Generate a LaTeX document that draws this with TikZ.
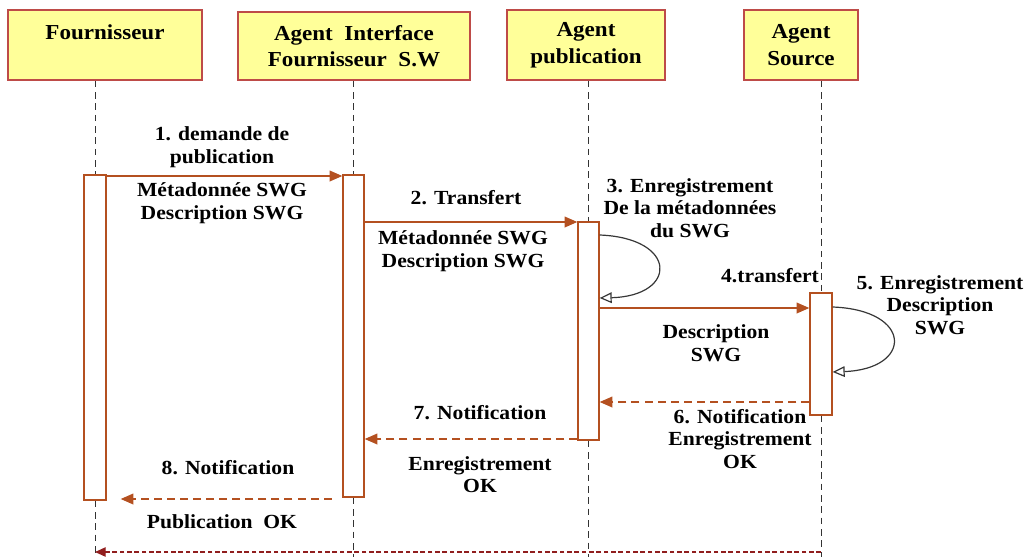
\documentclass[tikz,border=0pt]{standalone}
\usepackage{fontspec}
\setmainfont{Liberation Serif}[FakeStretch=1.08]
\usetikzlibrary{arrows.meta,positioning,fit}
\definecolor{headfill}{RGB}{255,255,153}
\definecolor{headborder}{RGB}{190,75,72}
\definecolor{msgbrown}{RGB}{180,80,32}
\definecolor{loopgray}{RGB}{55,55,55}
\definecolor{returnred}{RGB}{145,30,30}

\begin{document}
\begin{tikzpicture}[x=0.75pt, y=-0.75pt,
    every node/.style={font=\fontsize{15}{17}\selectfont\bfseries, align=center},
    head/.style={draw=headborder, fill=headfill, line width=1.2pt, inner sep=0pt, minimum height=52.5pt, font=\fontsize{16}{20}\selectfont\bfseries},
    actbar/.style={draw=msgbrown, fill=white, line width=1pt, inner sep=0pt},
    lifeline/.style={draw=black!80, line width=0.75pt, dash pattern=on 5pt off 3.5pt},
    msg/.style={draw=msgbrown, line width=1.1pt, -{Triangle[length=9.5pt, width=8pt]}},
    reply/.style={msg, dash pattern=on 6pt off 3.8pt},
    selfloop/.style={draw=loopgray, line width=0.9pt, -{Triangle[open, length=9pt, width=8pt, fill=white]}},
    back/.style={draw=returnred, line width=1pt, dash pattern=on 3.5pt off 2pt, -{Triangle[length=8pt, width=7pt]}}]
    \useasboundingbox (0,0) rectangle (1027,557);

    % Headers
    \node[head, minimum width=145.5pt] (hF) at (105,45) {Fournisseur\\\mbox{}};
    \node[head, minimum width=174pt, minimum height=51pt] (hI) at (354,46) {Agent\ \ Interface\\Fournisseur\ \ S.W};
    \node[head, minimum width=118.5pt] (hP) at (586,45) {Agent\\publication};
    \node[head, minimum width=85.5pt] (hS) at (801,45) {Agent\\Source};

    % Activation bars
    \node[actbar, fit={(84,175) (106,500)}] (actF) {};
    \node[actbar, fit={(343,175) (364,497)}] (actI) {};
    \node[actbar, fit={(578,222) (599,440)}] (actP) {};
    \node[actbar, fit={(810,293) (832,415)}] (actS) {};
    \coordinate (bottom) at (0,557);
    \coordinate (backline) at (0,552);

    % Lifelines
    \foreach \h/\a in {hF/actF, hI/actI, hP/actP, hS/actS} {
        \draw[lifeline] (\h.south -| \a.center) -- (\a.north);
        \draw[lifeline] (\a.south) -- (\a.south |- bottom);
    }

    % Messages
    \draw[msg] (actF.east |- 0,176) -- (actI.west |- 0,176);
    \node at (222,147.5) {1. demande de\\publication};
    \node at (222,203.5) {Métadonnée SWG\\Description SWG};

    \draw[msg] (actI.east |- 0,222) -- (actP.west |- 0,222);
    \node at (466,198) {2. Transfert};
    \node at (463,251) {Métadonnée SWG\\Description SWG};

    \draw[selfloop] (actP.east |- 0,235) .. controls (678,238) and (678,296) .. (actP.east |- 0,298);
    \node at (690,208) {3. Enregistrement\\De la métadonnées\\du SWG};

    \draw[msg] (actP.east |- 0,308) -- (actS.west |- 0,308);
    \node at (770,276) {4.transfert};
    \node at (716,343) {Description\\SWG};

    \draw[selfloop] (actS.east |- 0,307) .. controls (913,310) and (913,369) .. (actS.east |- 0,372);
    \node at (940,305) {5. Enregistrement\\Description\\SWG};

    \draw[reply] (actS.west |- 0,402) -- (actP.east |- 0,402);
    \node at (740,439) {6. Notification\\Enregistrement\\OK};

    \draw[reply] (actP.west |- 0,439) -- (actI.east |- 0,439);
    \node at (480,413) {7. Notification};
    \node at (480,474.5) {Enregistrement\\OK};

    \draw[reply, shorten <=8pt, shorten >=10.5pt] (actI.west |- 0,499) -- (actF.east |- 0,499);
    \node at (228,468) {8. Notification};
    \node at (222,522) {Publication\ \ OK};

    % Return to supplier
    \draw[back] (actS.south |- backline) -- (actF.south |- backline);
\end{tikzpicture}
\end{document}
